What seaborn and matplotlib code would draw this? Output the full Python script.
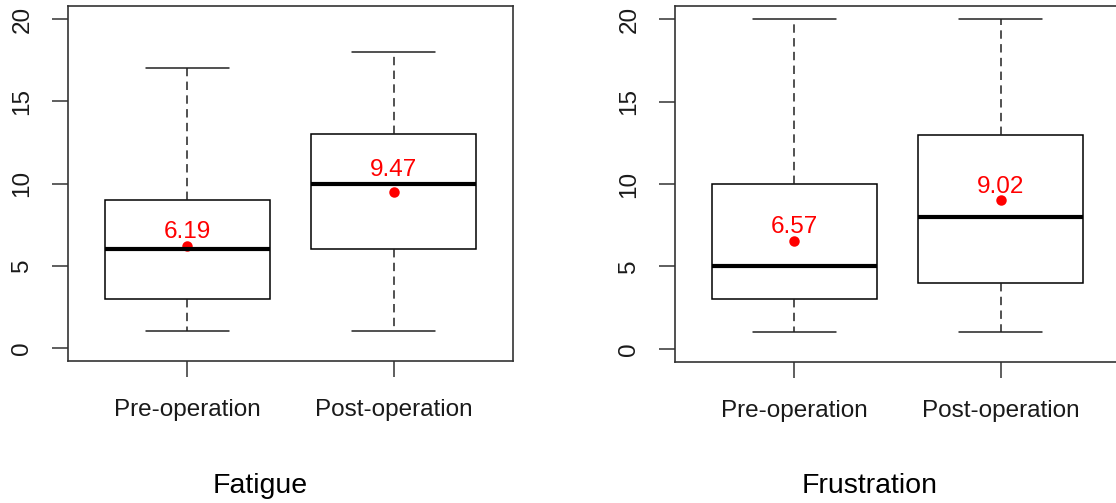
import matplotlib
matplotlib.use("Agg")
import matplotlib.pyplot as plt
import seaborn as sns
import pandas as pd

# ---- data (five-number summaries) ----
groups = ["Pre-operation", "Post-operation"]
fatigue_pre = [1, 3, 6, 9, 17]
fatigue_post = [1, 6, 10, 13, 18]
frustration_pre = [1, 3, 5, 10, 20]
frustration_post = [1, 4, 8, 13, 20]
fatigue_means = [6.19, 9.47]
frustration_means = [6.57, 9.02]
fatigue_medians = [6, 10]
frustration_medians = [5, 8]
panel_titles = ["Fatigue", "Frustration"]
yticks = [0, 5, 10, 15, 20]

sns.set_theme(style="white")
plt.rcParams["font.family"] = ["Liberation Sans", "DejaVu Sans"]

fig = plt.figure(figsize=(11.16, 5.03), dpi=100)
W, H = 1116, 503
ax1 = fig.add_axes([68 / W, 1 - 361 / H, 445 / W, 355 / H])
ax2 = fig.add_axes([675 / W, 1 - 362 / H, 445 / W, 356 / H])

panels = [
    (ax1, [fatigue_pre, fatigue_post], fatigue_means, fatigue_medians, panel_titles[0], 260),
    (ax2, [frustration_pre, frustration_post], frustration_means, frustration_medians, panel_titles[1], 870),
]

for ax, series, means, medians, title, tx in panels:
    df = pd.DataFrame({
        "group": [g for g, s in zip(groups, series) for _ in s],
        "value": [v for s in series for v in s],
    })
    sns.boxplot(
        data=df, x="group", y="value", order=groups, ax=ax,
        color="white", linecolor="black", linewidth=1.1, width=0.8, whis=1.5,
        medianprops=dict(linewidth=3.0, color="black"),
        whiskerprops=dict(linestyle=(0, (5.5, 3.5)), linewidth=1.1, color="#222222"),
        capprops=dict(linewidth=1.1, color="#222222"),
        boxprops=dict(edgecolor="black", facecolor="white", linewidth=1.1),
        showfliers=False,
    )
    sns.pointplot(x=groups, y=means, order=groups, ax=ax, color="red",
                  linestyle="none", marker="o", markersize=5.5, errorbar=None)
    for i, (m, md) in enumerate(zip(means, medians)):
        ax.annotate(f"{m:.2f}", xy=(i, max(m, md)), xytext=(0, 5.5),
                    textcoords="offset points", ha="center", va="baseline",
                    color="red", fontsize=17.5)

    ax.set_xlim(-0.58, 1.58)
    ax.set_ylim(-0.8, 20.8)
    ax.set_yticks(yticks)
    ax.set_yticklabels([str(t) for t in yticks], rotation=90, va="center")
    ax.set_xlabel("")
    ax.set_ylabel("")
    ax.tick_params(axis="both", which="major", direction="out", length=11.5,
                   width=1.1, color="#333333", labelsize=17.5, labelcolor="#1a1a1a")
    ax.tick_params(axis="x", pad=16)
    ax.tick_params(axis="y", pad=13.5)
    ax.yaxis.set_ticks_position("left")
    ax.xaxis.set_ticks_position("bottom")
    for sp in ax.spines.values():
        sp.set_visible(True)
        sp.set_color("#333333")
        sp.set_linewidth(1.2)
    fig.text(tx / W, 1 - 486 / H, title, ha="center", va="center",
             fontsize=20.5, color="black")

fig.savefig("out.png", dpi=100)
